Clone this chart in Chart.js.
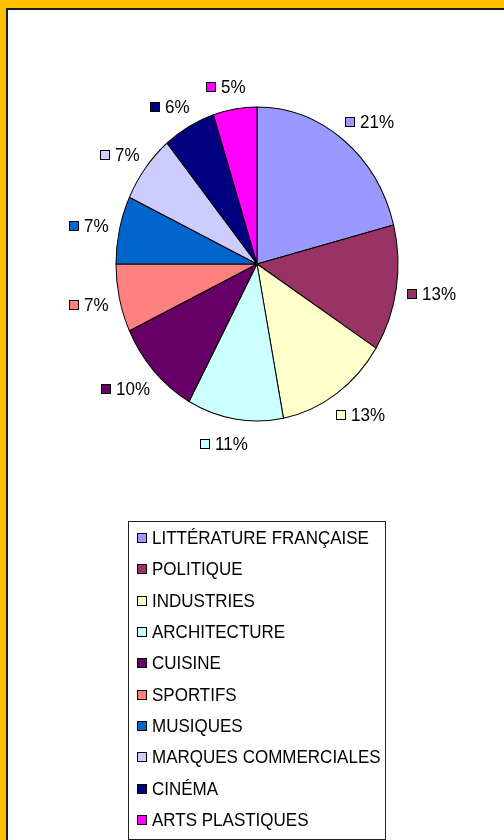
<!DOCTYPE html>
<html>
<head>
<meta charset="utf-8">
<title>Répartition par thème</title>
<script src="https://cdn.jsdelivr.net/npm/chart.js@4.4.1/dist/chart.umd.min.js"></script>
<style>
  html, body { margin: 0; padding: 0; background: #FFC000; overflow: hidden; }
  #frame {
    position: absolute; left: 6px; top: 8px; width: 498px; height: 832px;
    background: #fff; border-left: 2px solid #1a1a1a; border-top: 2px solid #1a1a1a;
    box-sizing: border-box;
  }
  #pieChart { position: absolute; left: 0; top: 0; }
</style>
</head>
<body>
<div id="frame"></div>
<canvas id="pieChart" width="504" height="840"></canvas>
<script>
// Data
const categories = [
  "LITTÉRATURE FRANÇAISE", "POLITIQUE", "INDUSTRIES", "ARCHITECTURE", "CUISINE",
  "SPORTIFS", "MUSIQUES", "MARQUES COMMERCIALES", "CINÉMA", "ARTS PLASTIQUES"
];
const shares = [21, 13, 13, 11, 10, 7, 7, 7, 6, 5];
const sliceColors = [
  "#9999FF", "#993366", "#FFFFCC", "#CCFFFF", "#660066",
  "#FF8080", "#0066CC", "#CCCCFF", "#000080", "#FF00FF"
];

const FONT = '"Liberation Sans", Arial, sans-serif';
const Y_STRETCH = 157 / 141; // pie is drawn as an ellipse in the original
const TEXT_STRETCH = 1.07;   // text is a bit taller than plain Arial too

function tallText(ctx, text, x, y) {
  ctx.save();
  ctx.translate(x, y);
  ctx.scale(1, TEXT_STRETCH);
  ctx.fillText(text, 0, 0);
  ctx.restore();
}

// Stretch the pie vertically around its centre
const stretchPie = {
  id: "stretchPie",
  beforeDatasetsDraw(chart) {
    const arc = chart.getDatasetMeta(0).data[0];
    const ctx = chart.ctx;
    ctx.save();
    ctx.translate(arc.x, arc.y);
    ctx.scale(1, Y_STRETCH);
    ctx.translate(-arc.x, -arc.y);
  },
  afterDatasetsDraw(chart) {
    chart.ctx.restore();
  }
};

// Percentage labels with a colour key square, outside each slice
const sliceLabels = {
  id: "sliceLabels",
  afterDraw(chart) {
    const ctx = chart.ctx;
    const ds = chart.data.datasets[0];
    const total = ds.data.reduce((a, b) => a + b, 0);
    ctx.save();
    ctx.font = "17px " + FONT;
    ctx.textBaseline = "middle";
    chart.getDatasetMeta(0).data.forEach((arc, i) => {
      const p = arc.getProps(["x", "y", "startAngle", "endAngle", "outerRadius"], true);
      const mid = (p.startAngle + p.endAngle) / 2;
      const ux = Math.cos(mid), uy = Math.sin(mid);
      const text = Math.round(ds.data[i] / total * 100) + "%";
      const w = 15 + ctx.measureText(text).width;
      const h = 14;
      const ex = p.x + p.outerRadius * ux;
      const ey = p.y + p.outerRadius * Y_STRETCH * uy;
      const cx = ex + 11 * ux + (w / 2) * Math.sign(ux) * Math.sqrt(Math.abs(ux));
      const cy = ey + 17 * uy + (h / 2) * uy + 1.5;
      const left = Math.round(cx - w / 2);
      const top = Math.round(cy - 5);
      ctx.fillStyle = ds.backgroundColor[i];
      ctx.fillRect(left + 0.5, top + 0.5, 9, 9);
      ctx.strokeStyle = "#000";
      ctx.lineWidth = 1;
      ctx.strokeRect(left + 0.5, top + 0.5, 9, 9);
      ctx.fillStyle = "#000";
      tallText(ctx, text, left + 15, top + 6);
    });
    ctx.restore();
  }
};

// Boxed one-column legend under the pie
const boxLegend = {
  id: "boxLegend",
  afterDraw(chart) {
    const ctx = chart.ctx;
    const ds = chart.data.datasets[0];
    const boxLeft = 128, boxTop = 521, boxW = 257, boxH = 318;
    const rowTop = 538, rowStep = 31.35;
    ctx.save();
    ctx.strokeStyle = "#222";
    ctx.lineWidth = 1;
    ctx.strokeRect(boxLeft + 0.5, boxTop + 0.5, boxW, boxH);
    ctx.font = "17px " + FONT;
    ctx.textBaseline = "middle";
    chart.data.labels.forEach((label, i) => {
      const y = Math.round(rowTop + i * rowStep);
      ctx.fillStyle = ds.backgroundColor[i];
      ctx.fillRect(137.5, y - 4.5, 9, 9);
      ctx.strokeStyle = "#000";
      ctx.strokeRect(137.5, y - 4.5, 9, 9);
      ctx.fillStyle = "#000";
      tallText(ctx, label, 152, y + 1);
    });
    ctx.restore();
  }
};

const pieChart = new Chart(document.getElementById("pieChart").getContext("2d"), {
  type: "pie",
  data: {
    labels: categories,
    datasets: [{
      data: shares,
      backgroundColor: sliceColors,
      borderColor: "#000",
      borderWidth: 1,
      hoverOffset: 0,
      radius: 141
    }]
  },
  options: {
    responsive: false,
    animation: false,
    events: [],
    layout: { padding: { left: 116, right: 106, top: 123, bottom: 435 } },
    plugins: {
      legend: { display: false },
      tooltip: { enabled: false }
    }
  },
  plugins: [stretchPie, sliceLabels, boxLegend]
});
</script>
</body>
</html>
